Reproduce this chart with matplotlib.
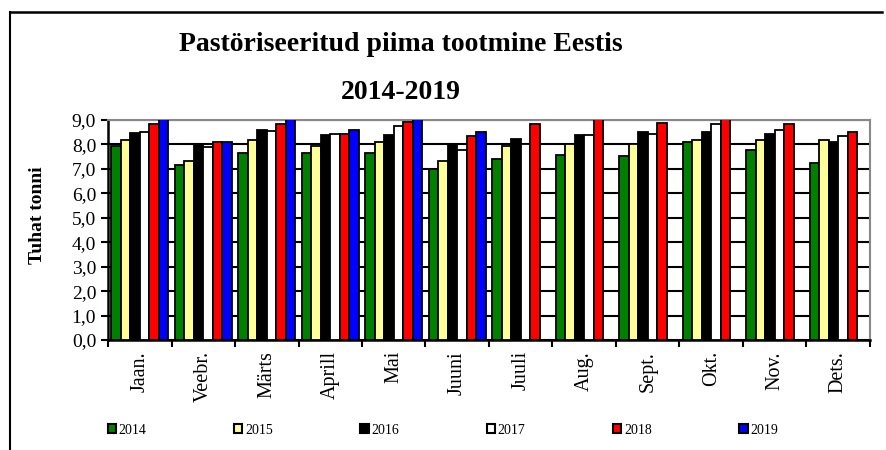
import numpy as np
import matplotlib
matplotlib.use('Agg')
import matplotlib.pyplot as plt
from matplotlib.patches import Patch

# andmed (tuhat tonni), loetud pildilt
kuud = ['Jaan.', 'Veebr.', 'Märts', 'Aprill', 'Mai', 'Juuni',
        'Juuli', 'Aug.', 'Sept.', 'Okt.', 'Nov.', 'Dets.']
aastad = ['2014', '2015', '2016', '2017', '2018', '2019']

v2014 = [7.94, 7.15, 7.64, 7.64, 7.64, 6.98, 7.39, 7.57, 7.53, 8.11, 7.77, 7.23]
v2015 = [8.18, 7.32, 8.18, 7.94, 8.11, 7.31, 7.94, 8.02, 8.00, 8.18, 8.18, 8.18]
v2016 = [8.45, 8.03, 8.61, 8.37, 8.37, 8.00, 8.21, 8.37, 8.51, 8.51, 8.44, 8.12]
v2017 = [8.52, 7.91, 8.56, 8.44, 8.76, 7.77, 8.02, 8.37, 8.44, 8.82, 8.59, 8.36]
v2018 = [8.84, 8.11, 8.84, 8.44, 8.90, 8.35, 8.82, 9.10, 8.89, 9.10, 8.82, 8.50]
v2019 = [9.20, 8.11, 9.30, 8.59, 9.40, 8.51]

seeriad = [v2014, v2015, v2016, v2017, v2018, v2019]
varvid = ['#008000', '#ffff99', '#000000', '#ffffff', '#ff0000', '#0000ff']

plt.rcParams['font.family'] = ['Liberation Serif', 'DejaVu Serif']

fig = plt.figure(figsize=(8.86, 4.5), dpi=100)
ax = fig.add_axes([108/886, 1 - 340/450, 762/886, 220/450])

laius = 0.15
x = np.arange(len(kuud))
for i, (vals, c) in enumerate(zip(seeriad, varvid)):
    xx = x[:len(vals)] - 0.375 + i * laius
    ax.bar(xx, vals, width=laius, color=c, edgecolor='black',
           linewidth=1.3, zorder=3)

ax.set_ylim(0, 9)
ax.set_xlim(-0.5, len(kuud) - 0.5)
ax.set_yticks(np.arange(0, 9.1, 1.0))
ax.set_yticklabels([f'{v:.1f}'.replace('.', ',') for v in np.arange(0, 9.1, 1.0)],
                   fontsize=14)
ax.yaxis.grid(True, color='black', linewidth=1.5, zorder=0)
ax.set_axisbelow(True)

ax.set_xticks(np.arange(-0.5, len(kuud), 1.0))
ax.set_xticklabels([])
ax.set_xticks(x, minor=True)
ax.set_xticklabels(kuud, minor=True, rotation=90, fontsize=14.5)
ax.tick_params(axis='x', which='minor', length=0, pad=8)
ax.tick_params(axis='both', which='major', length=5, width=1.5, direction='out')

for s in ['left', 'bottom']:
    ax.spines[s].set_linewidth(1.8)
for s in ['top', 'right']:
    ax.spines[s].set_color('#888888')
    ax.spines[s].set_linewidth(1.5)

# pealkiri kahel real
fig.text(0.452, 1 - 51/450, 'Pastöriseeritud piima tootmine Eestis',
         ha='center', va='baseline', fontsize=20, fontweight='bold')
fig.text(0.452, 1 - 99/450, '2014-2019',
         ha='center', va='baseline', fontsize=20, fontweight='bold')
fig.text(37/886, 1 - 215/450, 'Tuhat tonni', rotation=90, ha='center',
         va='center', fontsize=14, fontweight='bold')

kaed = [Patch(facecolor=c, edgecolor='black', linewidth=1.5) for c in varvid]
fig.legend(kaed, aastad, loc='center', bbox_to_anchor=(0.50, 1 - 430/450),
           ncol=6, frameon=False, fontsize=10, handlelength=0.6,
           handleheight=0.6, handletextpad=0.2, columnspacing=6.3)

# raam
fig.add_artist(plt.Line2D([10/886, 10/886], [-0.1, 1 - 12/450],
                          transform=fig.transFigure, color='black', linewidth=1.5))
fig.add_artist(plt.Line2D([10/886, 882/886], [1 - 12/450, 1 - 12/450],
                          transform=fig.transFigure, color='black', linewidth=1.8))

fig.savefig('out.png', dpi=100)
